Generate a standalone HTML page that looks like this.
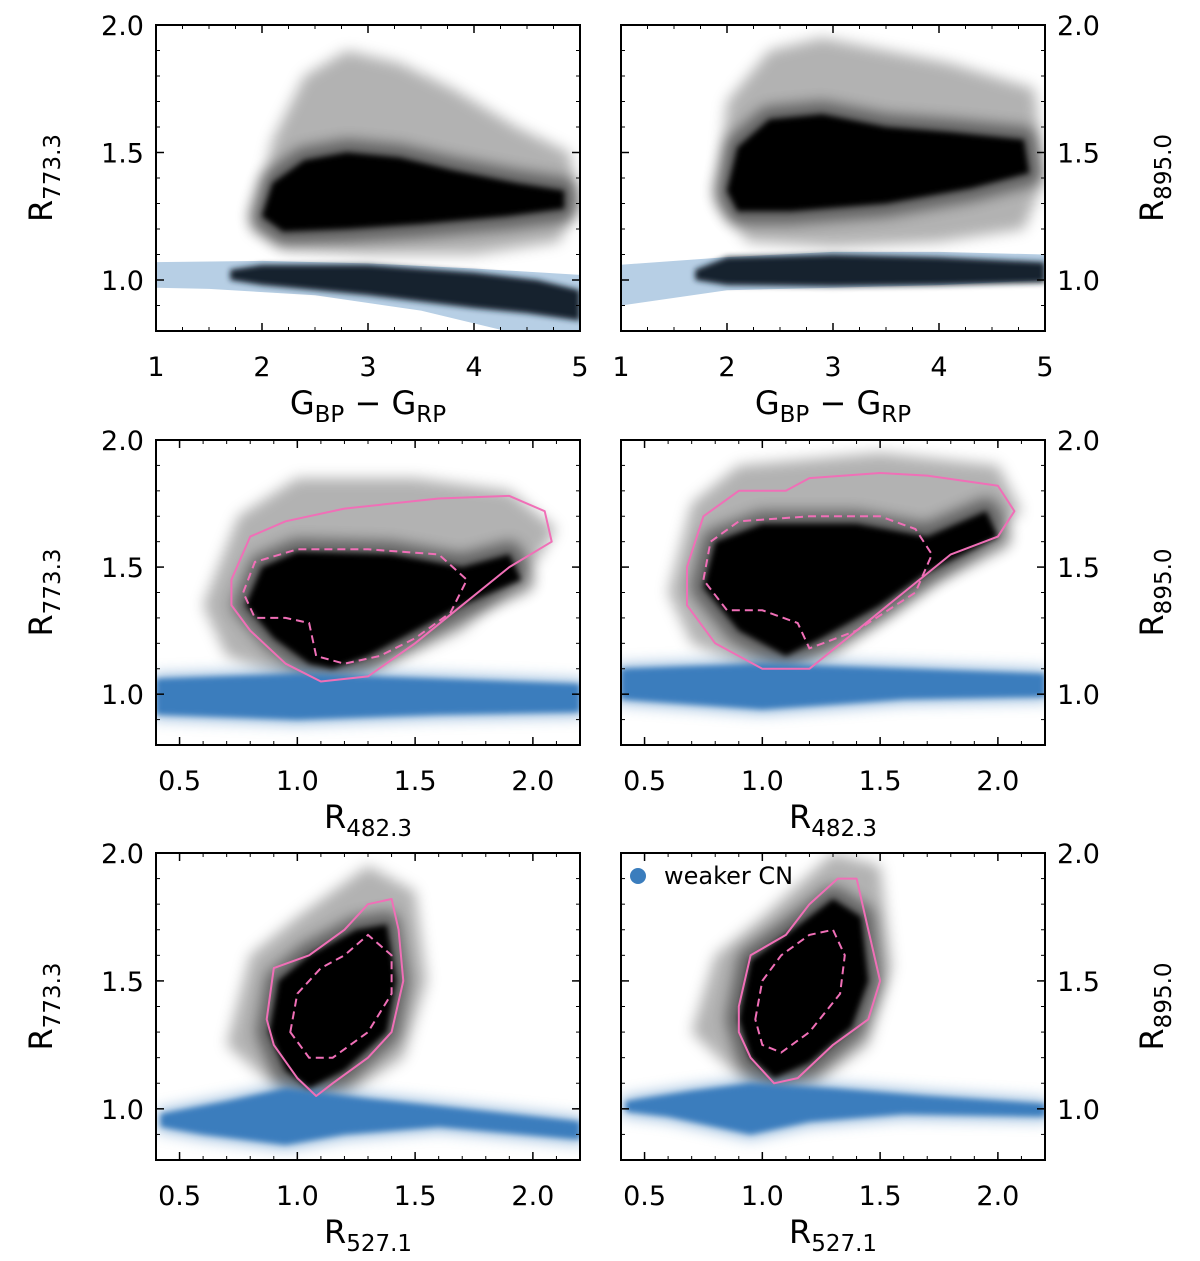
<!DOCTYPE html>
<html><head><meta charset="utf-8">
<style>
html,body{margin:0;padding:0;background:#fff;}
svg{display:block;font-family:"DejaVu Sans","Liberation Sans",sans-serif;}
</style></head>
<body>
<svg id="fig" width="1200" height="1261" viewBox="0 0 1200 1261" xmlns="http://www.w3.org/2000/svg">
<defs>
<filter id="soft" x="-50%" y="-50%" width="200%" height="200%"><feGaussianBlur stdDeviation="7"/></filter>
<filter id="soft2" x="-50%" y="-50%" width="200%" height="200%"><feGaussianBlur stdDeviation="3"/></filter>
</defs>
</svg>
<script>
// ---- data (data coordinates) ----
const row1XTicks = [1,2,3,4,5];
const row23XTicks = [0.5,1.0,1.5,2.0];
const yTicks = [1.0,1.5,2.0];

// Row 1 left (R773.3 vs colour)
const p1Halo = [[1.9,1.2],[2.1,1.55],[2.4,1.8],[2.8,1.9],[3.3,1.85],[3.8,1.75],[4.4,1.6],[4.9,1.5],[5,1.3],[4.8,1.15],[4,1.1],[3,1.1],[2.2,1.12]];
const p1Core = [[2.0,1.25],[2.1,1.38],[2.4,1.47],[2.8,1.5],[3.3,1.48],[3.8,1.43],[4.4,1.38],[4.85,1.35],[4.85,1.28],[4.3,1.25],[3.5,1.22],[2.8,1.2],[2.2,1.19]];
const p1Light = [[1,1.07],[2,1.075],[3,1.065],[4,1.045],[5,1.02],[5,0.8],[4.3,0.8],[3.5,0.88],[2.5,0.94],[1.5,0.965],[1,0.97]];
const p1Dark = [[1.7,1.04],[2,1.06],[3,1.06],[4,1.03],[4.6,1.0],[5,0.96],[5,0.84],[4.5,0.87],[4,0.89],[3,0.94],[2,0.98],[1.7,1.0]];
// Row 1 right (R895.0 vs colour)
const p2Halo = [[1.9,1.3],[2.0,1.7],[2.4,1.9],[2.9,1.95],[3.5,1.9],[4.1,1.85],[4.9,1.75],[5,1.4],[4.8,1.2],[4,1.15],[3,1.13],[2.2,1.15]];
const p2Core = [[2.0,1.35],[2.1,1.52],[2.4,1.63],[2.9,1.65],[3.5,1.6],[4.1,1.58],[4.8,1.55],[4.85,1.42],[4.3,1.36],[3.5,1.3],[2.6,1.27],[2.1,1.27]];
const p2Light = [[1,1.06],[2,1.09],[3,1.11],[4,1.11],[5,1.1],[5,1.0],[4,0.98],[3,0.97],[2,0.96],[1,0.9]];
const p2Dark = [[1.7,1.04],[2,1.09],[3,1.1],[4,1.09],[5,1.07],[5,0.99],[4,0.98],[3,0.975],[2,0.98],[1.7,1.0]];
// Row 2 left
const p3Blue = [[0.4,1.06],[1.0,1.08],[1.6,1.06],[2.2,1.04],[2.2,0.93],[1.6,0.92],[1.0,0.9],[0.4,0.92]];
const p3Halo = [[0.6,1.35],[0.75,1.7],[1.0,1.85],[1.5,1.85],[1.9,1.8],[2.1,1.65],[2.0,1.5],[1.7,1.25],[1.3,1.08],[1.0,1.05],[0.7,1.15]];
const p3Core = [[0.78,1.35],[0.85,1.5],[1.0,1.56],[1.4,1.55],[1.7,1.5],[1.9,1.55],[1.95,1.45],[1.7,1.35],[1.5,1.25],[1.3,1.15],[1.15,1.1],[1.05,1.12],[0.9,1.22]];
const p3Solid = [[0.72,1.45],[0.8,1.62],[0.95,1.68],[1.2,1.73],[1.6,1.77],[1.9,1.78],[2.05,1.72],[2.08,1.6],[1.9,1.5],[1.7,1.35],[1.5,1.2],[1.3,1.07],[1.1,1.05],[0.95,1.12],[0.8,1.25],[0.72,1.35]];
const p3Dash = [[0.77,1.4],[0.82,1.52],[1.0,1.57],[1.3,1.57],[1.6,1.55],[1.72,1.45],[1.65,1.32],[1.5,1.22],[1.35,1.15],[1.2,1.12],[1.08,1.15],[1.05,1.28],[0.95,1.3],[0.82,1.3]];
// Row 2 right
const p4Blue = [[0.4,1.1],[1.0,1.12],[1.6,1.1],[2.2,1.08],[2.2,0.99],[1.6,0.98],[1.0,0.94],[0.4,0.98]];
const p4Halo = [[0.6,1.4],[0.7,1.75],[0.9,1.9],[1.5,1.95],[2.0,1.9],[2.1,1.72],[1.9,1.55],[1.6,1.35],[1.3,1.15],[1.0,1.08],[0.7,1.2]];
const p4Core = [[0.75,1.42],[0.8,1.6],[1.0,1.67],[1.4,1.67],[1.7,1.62],[1.95,1.72],[2.0,1.62],[1.7,1.48],[1.5,1.35],[1.25,1.22],[1.1,1.15],[0.9,1.25]];
const p4Solid = [[0.68,1.5],[0.75,1.7],[0.9,1.8],[1.1,1.8],[1.2,1.85],[1.5,1.87],[1.7,1.86],[2.0,1.82],[2.07,1.72],[2.0,1.62],[1.8,1.55],[1.6,1.4],[1.4,1.25],[1.2,1.1],[1.0,1.1],[0.8,1.2],[0.68,1.35]];
const p4Dash = [[0.75,1.45],[0.78,1.6],[0.9,1.68],[1.2,1.7],[1.5,1.7],[1.65,1.65],[1.72,1.55],[1.65,1.4],[1.4,1.25],[1.2,1.18],[1.15,1.28],[1.0,1.33],[0.85,1.33]];
// Row 3 left
const p5Blue = [[0.42,0.98],[0.7,1.03],[0.95,1.08],[1.3,1.04],[1.7,1.0],[2.2,0.95],[2.2,0.88],[1.6,0.93],[1.2,0.9],[0.95,0.86],[0.6,0.9],[0.42,0.93]];
const p5Halo = [[0.7,1.25],[0.8,1.6],[1.0,1.75],[1.3,1.95],[1.5,1.85],[1.55,1.5],[1.45,1.2],[1.2,1.05],[0.95,1.05]];
const p5Core = [[0.88,1.3],[0.92,1.5],[1.05,1.6],[1.25,1.7],[1.38,1.72],[1.42,1.5],[1.38,1.3],[1.2,1.15],[1.05,1.08],[0.95,1.15]];
const p5Solid = [[0.87,1.35],[0.9,1.55],[1.05,1.6],[1.2,1.7],[1.3,1.8],[1.4,1.82],[1.43,1.7],[1.45,1.5],[1.4,1.3],[1.3,1.2],[1.15,1.1],[1.08,1.05],[1.0,1.12],[0.9,1.25]];
const p5Dash = [[0.97,1.3],[1.0,1.45],[1.1,1.55],[1.2,1.6],[1.3,1.68],[1.4,1.6],[1.4,1.45],[1.3,1.3],[1.15,1.2],[1.05,1.2]];
// Row 3 right
const p6Blue = [[0.42,1.03],[0.7,1.07],[0.95,1.1],[1.3,1.08],[1.7,1.05],[2.2,1.02],[2.2,0.97],[1.6,0.98],[1.2,0.95],[0.95,0.9],[0.6,0.97],[0.42,0.99]];
const p6Halo = [[0.7,1.3],[0.8,1.6],[1.0,1.75],[1.3,2.0],[1.5,1.95],[1.55,1.55],[1.45,1.25],[1.2,1.08],[0.95,1.08]];
const p6Core = [[0.9,1.35],[0.95,1.58],[1.1,1.68],[1.3,1.82],[1.42,1.75],[1.45,1.5],[1.38,1.32],[1.2,1.18],[1.05,1.12],[0.95,1.2]];
const p6Solid = [[0.9,1.4],[0.95,1.6],[1.1,1.68],[1.2,1.8],[1.32,1.9],[1.4,1.9],[1.45,1.7],[1.5,1.5],[1.45,1.35],[1.3,1.25],[1.15,1.12],[1.05,1.1],[0.95,1.2],[0.9,1.3]];
const p6Dash = [[0.97,1.35],[1.0,1.5],[1.08,1.6],[1.2,1.68],[1.3,1.7],[1.35,1.6],[1.33,1.45],[1.2,1.3],[1.08,1.22],[1.0,1.25]];

const NS="http://www.w3.org/2000/svg";
const svg=document.getElementById('fig');
function mk(tag,attrs,parent){const e=document.createElementNS(NS,tag);for(const k in attrs)e.setAttribute(k,attrs[k]);(parent||svg).appendChild(e);return e;}

const cols=[{x0:156,x1:580},{x0:621,x1:1045}];
const rows=[{y0:25,y1:331},{y0:440,y1:745},{y0:853,y1:1160}];

function makeAxes(c,r,xmin,xmax){
  const X=v=>c.x0+(v-xmin)/(xmax-xmin)*(c.x1-c.x0);
  const Y=v=>r.y1-(v-0.8)/(1.2)*(r.y1-r.y0);
  return {X,Y};
}
function pts(arr,ax){return arr.map(p=>ax.X(p[0]).toFixed(1)+','+ax.Y(p[1]).toFixed(1)).join(' ');}

function panel(ci,ri,spec){
  const c=cols[ci],r=rows[ri];
  const xmin=ri===0?1:0.4,xmax=ri===0?5:2.2;
  const ax=makeAxes(c,r,xmin,xmax);
  const g=mk('g',{});
  
  
  const cid='clip'+ci+ri;
  const cp=mk('clipPath',{id:cid},g);mk('rect',{x:c.x0,y:r.y0,width:c.x1-c.x0,height:r.y1-r.y0},cp);
  const plot=mk('g',{'clip-path':'url(#'+cid+')'},g);
  if(spec.light){const e=mk('polygon',{points:pts(spec.light,ax),fill:'#b7cfe5'},plot);}
  const h=mk('polygon',{points:pts(spec.halo,ax),fill:'#000','fill-opacity':0.3,filter:'url(#soft)'},plot);
  
  const mid=mk('polygon',{points:pts(spec.core,ax),fill:'#000',stroke:'#000','stroke-width':26,'stroke-linejoin':'round',opacity:0.45,filter:'url(#soft)'},plot);
  
  if(spec.blue){
    const e2=mk('polygon',{points:pts(spec.blue,ax),fill:'#4a88c4',stroke:'#6a9ccc','stroke-width':10,'stroke-linejoin':'round',opacity:0.6,filter:'url(#soft)'},plot);
    
    const e=mk('polygon',{points:pts(spec.blue,ax),fill:'#3a7dbd',filter:'url(#soft2)'},plot);}
  const co=mk('polygon',{points:pts(spec.core,ax),fill:'#000',filter:'url(#soft2)'},plot);
  
  if(spec.dark){const e=mk('polygon',{points:pts(spec.dark,ax),fill:'#12222f',filter:'url(#soft2)'},plot);}
  if(spec.solid){const e=mk('polygon',{points:pts(spec.solid,ax),fill:'none',stroke:'#f06fb7','stroke-width':2,'stroke-linejoin':'round'},plot);}
  if(spec.dash){const e=mk('polygon',{points:pts(spec.dash,ax),fill:'none',stroke:'#f06fb7','stroke-width':2,'stroke-dasharray':'8,5'},plot);}
  const fr=mk('rect',{x:c.x0,y:r.y0,width:c.x1-c.x0,height:r.y1-r.y0,fill:'none',stroke:'#000','stroke-width':2},g);
  
  const xt=ri===0?row1XTicks:row23XTicks;
  const xminor=ri===0?0.25:0.1;
  for(let v=xmin;v<=xmax+1e-6;v+=xminor){const px=ax.X(v);mk('line',{x1:px,x2:px,y1:r.y1,y2:r.y1-4,stroke:'#000','stroke-width':1},g);mk('line',{x1:px,x2:px,y1:r.y0,y2:r.y0+4,stroke:'#000','stroke-width':1},g);}
  for(let v=0.8;v<=2.0001;v+=0.1){const py=ax.Y(v);mk('line',{x1:c.x0,x2:c.x0+4,y1:py,y2:py,stroke:'#000','stroke-width':1},g);mk('line',{x1:c.x1,x2:c.x1-4,y1:py,y2:py,stroke:'#000','stroke-width':1},g);}
  xt.forEach(v=>{const px=ax.X(v);
    mk('line',{x1:px,x2:px,y1:r.y1,y2:r.y1-8,stroke:'#000','stroke-width':1.5},g);mk('line',{x1:px,x2:px,y1:r.y0,y2:r.y0+8,stroke:'#000','stroke-width':1.5},g);
    const t=mk('text',{x:px,y:r.y1+45,'font-size':27,'text-anchor':'middle'},g);t.textContent=ri===0?String(v):v.toFixed(1);
    });
  yTicks.forEach(v=>{const py=ax.Y(v);
    mk('line',{x1:c.x0,x2:c.x0+8,y1:py,y2:py,stroke:'#000','stroke-width':1.5},g);mk('line',{x1:c.x1,x2:c.x1-8,y1:py,y2:py,stroke:'#000','stroke-width':1.5},g);
    const t=mk('text',{x:ci===0?c.x0-12:c.x1+12,y:py+10,'font-size':27,'text-anchor':ci===0?'end':'start'},g);t.textContent=v.toFixed(1);
    });
  const xl=mk('text',{x:(c.x0+c.x1)/2,y:r.y1+83,'font-size':32,'text-anchor':'middle'},g);
  
  if(ri===0){xl.innerHTML='G<tspan font-size="23" dy="8">BP</tspan><tspan dy="-8"> − G</tspan><tspan font-size="23" dy="8">RP</tspan>';}
  else{xl.innerHTML='R<tspan font-size="23" dy="8">'+(ri===1?'482.3':'527.1')+'</tspan>';}
  const lx=ci===0?52:1163, ly=(r.y0+r.y1)/2;
  const yl=mk('text',{x:lx,y:ly,'font-size':32,'text-anchor':'middle',transform:'rotate(-90 '+lx+' '+ly+')'},g);
  
  yl.innerHTML='R<tspan font-size="23" dy="8">'+(ci===0?'773.3':'895.0')+'</tspan>';
  return ax;
}
panel(0,0,{light:p1Light,halo:p1Halo,core:p1Core,dark:p1Dark});
panel(1,0,{light:p2Light,halo:p2Halo,core:p2Core,dark:p2Dark});
panel(0,1,{blue:p3Blue,halo:p3Halo,core:p3Core,solid:p3Solid,dash:p3Dash});
panel(1,1,{blue:p4Blue,halo:p4Halo,core:p4Core,solid:p4Solid,dash:p4Dash});
panel(0,2,{blue:p5Blue,halo:p5Halo,core:p5Core,solid:p5Solid,dash:p5Dash});
panel(1,2,{blue:p6Blue,halo:p6Halo,core:p6Core,solid:p6Solid,dash:p6Dash});
const lg=mk('g',{});


mk('circle',{cx:638,cy:876,r:8,fill:'#3a7dbd'},lg);
const lt=mk('text',{x:664,y:884,'font-size':24},lg);lt.textContent='weaker CN';


</script>
</body></html>
